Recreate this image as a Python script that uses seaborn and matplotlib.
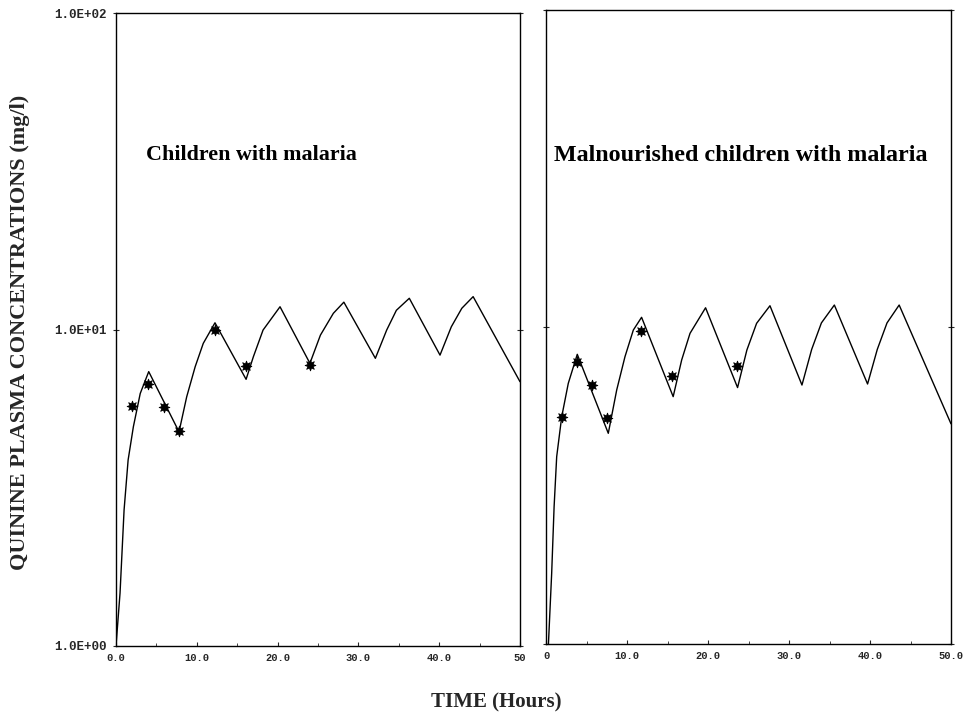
import matplotlib
matplotlib.use("Agg")
import matplotlib.pyplot as plt
import seaborn as sns
import pandas as pd
from matplotlib.ticker import FixedLocator, NullLocator

# ---- data ----
children_time = [0, 0.5, 1.0, 1.5, 2.15, 3.0, 4.05, 7.8, 8.75, 9.8, 10.8, 12.25, 16.1, 17.0, 18.2,
                 20.3, 24.0, 25.3, 26.9, 28.2, 32.1, 33.5, 34.7, 36.3, 40.1, 41.5, 42.8, 44.2, 50]
children_conc = [1.0, 1.47, 2.69, 3.87, 4.93, 6.28, 7.36, 4.75, 6.13, 7.63, 9.04, 10.5, 6.96, 8.2, 9.96,
                 11.8, 7.82, 9.6, 11.25, 12.2, 8.11, 9.96, 11.5, 12.55, 8.3, 10.2, 11.67, 12.7, 6.84]
children_obs_time = [2.02, 3.96, 5.98, 7.75, 12.25, 16.05, 24.0]
children_obs_conc = [5.73, 6.71, 5.68, 4.79, 10.0, 7.69, 7.72]

maln_time = [0.3, 0.7, 1.0, 1.32, 1.94, 2.75, 3.86, 7.69, 8.73, 9.75, 10.78, 11.8, 15.7, 16.75, 17.78,
             19.7, 23.65, 24.8, 26.0, 27.65, 31.6, 32.8, 34.0, 35.6, 39.7, 40.9, 42.1, 43.6, 50]
maln_conc = [1.0, 1.67, 2.71, 3.9, 5.21, 6.64, 8.2, 4.62, 6.33, 8.06, 9.78, 10.73, 6.03, 7.87, 9.55,
             11.5, 6.44, 8.46, 10.27, 11.67, 6.56, 8.5, 10.3, 11.73, 6.61, 8.5, 10.3, 11.73, 4.95]
maln_obs_time = [1.94, 3.85, 5.7, 7.49, 11.75, 15.6, 23.6]
maln_obs_conc = [5.21, 7.74, 6.55, 5.16, 9.71, 7.02, 7.53]

panel_titles = ["Children with malaria", "Malnourished children with malaria"]
y_ticks = [1, 10, 100]
y_tick_labels = ["1.0E+00", "1.0E+01", "1.0E+02"]
x_ticks = [0, 10, 20, 30, 40, 50]
x_tick_labels_left = ["0.0", "10.0", "20.0", "30.0", "40.0", "50"]
x_tick_labels_right = ["0", "10.0", "20.0", "30.0", "40.0", "50.0"]

sns.set_style("white")
plt.rcParams["font.family"] = ["Liberation Serif", "DejaVu Serif"]

fig = plt.figure(figsize=(9.63, 7.17), dpi=100)
ax1 = fig.add_axes([116 / 963, 71 / 717, 404 / 963, 633 / 717])
ax2 = fig.add_axes([546 / 963, 73 / 717, 405 / 963, 634 / 717])

panels = [
    (ax1, children_time, children_conc, children_obs_time, children_obs_conc, x_tick_labels_left, True,
     (0.074, 0.776), 15.8),
    (ax2, maln_time, maln_conc, maln_obs_time, maln_obs_conc, x_tick_labels_right, False,
     (0.02, 0.771), 17.3),
]

xtick_font = dict(family="Liberation Mono", weight="bold", size=7.5)
ytick_font = dict(family="Liberation Mono", weight="bold", size=9)

for i, (ax, t, c, ot, oc, xl, show_y, tpos, tsize) in enumerate(panels):
    curve = pd.DataFrame({"t": t, "c": c})
    obs = pd.DataFrame({"t": ot, "c": oc})
    sns.lineplot(data=curve, x="t", y="c", ax=ax, color="black", linewidth=1.0, sort=False)
    sns.scatterplot(data=obs, x="t", y="c", ax=ax, color="black", marker=(8, 1, 0), s=60,
                    edgecolor="black", linewidth=0.6, zorder=3)
    ax.set_yscale("log")
    ax.set_ylim(1, 100)
    ax.set_xlim(0, 50)
    ax.set_xlabel("")
    ax.set_ylabel("")
    ax.yaxis.set_major_locator(FixedLocator(y_ticks))
    ax.yaxis.set_minor_locator(NullLocator())
    ax.set_xticks(x_ticks)
    ax.set_xticks([5, 15, 25, 35, 45], minor=True)
    ax.set_xticklabels(xl, fontdict=xtick_font)
    if show_y:
        ax.set_yticklabels(y_tick_labels, fontdict=ytick_font)
    else:
        ax.set_yticklabels([])
    ax.tick_params(axis="y", which="major", direction="inout", length=5, width=0.8,
                   left=True, right=True, pad=4)
    ax.tick_params(axis="x", which="major", direction="in", length=3, width=0.8, bottom=True, pad=5)
    ax.tick_params(axis="x", which="minor", direction="in", length=2, width=0.6, bottom=True)
    for sp in ax.spines.values():
        sp.set_visible(True)
        sp.set_color("black")
        sp.set_linewidth(1.0)
    ax.text(tpos[0], tpos[1], panel_titles[i], transform=ax.transAxes, fontsize=tsize,
            fontweight="bold", ha="left", va="center", color="black")

fig.text(20 / 963, 1 - 332 / 717, "QUININE PLASMA CONCENTRATIONS (mg/l)", rotation=90,
         ha="center", va="center", fontsize=16, fontweight="bold")
fig.text(496 / 963, 1 - 702 / 717, "TIME (Hours)", ha="center", va="center",
         fontsize=15, fontweight="bold")

fig.savefig("out.png", dpi=100, facecolor="white")
